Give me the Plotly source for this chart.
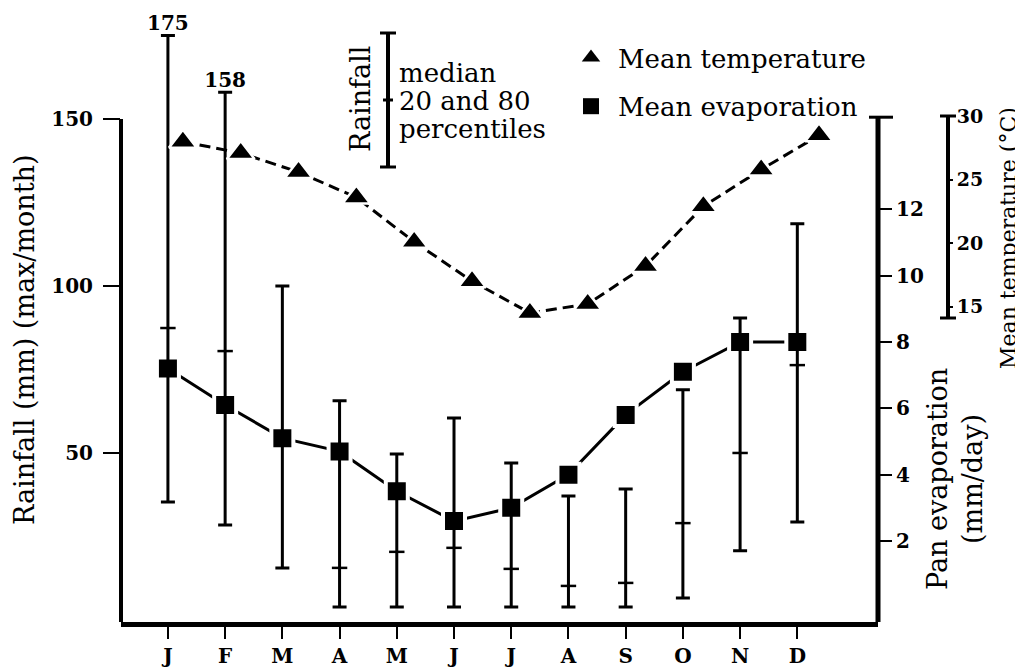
import plotly.graph_objects as go

# monthly climate summary
month_keys = ['Jan', 'Feb', 'Mar', 'Apr', 'May', 'Jun',
              'Jul', 'Aug', 'Sep', 'Oct', 'Nov', 'Dec']
month_labels = ['J', 'F', 'M', 'A', 'M', 'J', 'J', 'A', 'S', 'O', 'N', 'D']

# rainfall (mm/month): 80th percentile, median, 20th percentile
rain_p80 = [175, 158, 100, 65.6, 49.7, 60.5, 47.0, 37.1, 39.2, 68.9, 90.4, 118.6]
rain_median = [87.4, 80.5, 54.0, 15.6, 20.4, 21.6, 15.3, 10.2, 11.1, 29.0, 50.0, 76.3]
rain_p20 = [35.3, 28.4, 15.6, 3.9, 3.9, 3.9, 3.9, 3.9, 3.9, 6.6, 20.7, 29.3]

# pan evaporation (mm/day) and mean temperature (degC)
evaporation = [7.2, 6.1, 5.1, 4.7, 3.5, 2.6, 3.0, 4.0, 5.8, 7.1, 8.0, 8.0]
temperature = [28.0, 27.1, 25.6, 23.6, 20.1, 17.0, 14.5, 15.2, 18.2, 22.9, 25.8, 28.5]

rain_ticks = [50, 100, 150]
evap_ticks = [2, 4, 6, 8, 10, 12]
temp_ticks = [15, 20, 25, 30]

SERIF = 'DejaVu Serif'
OFF = 8  # page margin of the html body
W, H = 1023 - OFF, 672 - OFF
L, R, T, B = 113, 63, 2, 50
PW, PH = W - L - R, H - T - B

RAIN_RANGE = [-0.6, 182.6]
EVAP_RANGE = [-0.44, 18.0]
EVAP_TOP = 14.77


def px_x(x):
    # picture x (px) -> paper fraction
    return (x - OFF - L) / PW


def px_y(y):
    # picture y (px) -> paper fraction
    return (H - B - (y - OFF)) / PH


X_END = px_x(878)
TEMP_POS = px_x(948)

fig = go.Figure()

# evaporation (base subplot, right axis)
fig.add_trace(go.Scatter(
    x=month_keys, y=evaporation, mode='lines+markers',
    line=dict(color='black', width=3),
    marker=dict(symbol='square', size=22, color='black',
                line=dict(color='white', width=4)),
    xaxis='x', yaxis='y', showlegend=False,
))

# rainfall percentile bars (overlay, left axis)
fig.add_trace(go.Scatter(
    x=month_keys, y=rain_median, mode='markers',
    marker=dict(symbol='line-ew', size=11, color='black',
                line=dict(color='black', width=2.5)),
    error_y=dict(type='data', symmetric=False,
                 array=[h - m for h, m in zip(rain_p80, rain_median)],
                 arrayminus=[m - l for m, l in zip(rain_median, rain_p20)],
                 color='black', thickness=3, width=7),
    xaxis='x', yaxis='y2', showlegend=False,
))

# values that run off the top of the rainfall scale
off_x = [m for m, v in zip(month_keys, rain_p80) if v > rain_ticks[-1]]
off_v = [v for v in rain_p80 if v > rain_ticks[-1]]
fig.add_trace(go.Scatter(
    x=off_x, y=off_v, mode='text', text=[f'{v:g}' for v in off_v],
    textposition='top center',
    textfont=dict(family=SERIF, size=20, color='black', weight='bold'),
    xaxis='x', yaxis='y2', showlegend=False, cliponaxis=False,
))

# mean temperature (own small axis on the far right)
fig.add_trace(go.Scatter(
    x=month_keys, y=temperature, mode='lines+markers',
    line=dict(color='black', width=3, dash='11px,6px'),
    marker=dict(symbol='triangle-up', size=24, color='black',
                line=dict(color='white', width=2.5)),
    xaxis='x2', yaxis='y3', showlegend=False, cliponaxis=False,
))

# legend entries (marker only)
fig.add_trace(go.Scatter(
    x=[None], y=[None], mode='markers', name='Mean temperature',
    marker=dict(symbol='triangle-up', size=17, color='black'),
    legendgroup='t',
))
fig.add_trace(go.Scatter(
    x=[None], y=[None], mode='markers', name='Mean evaporation',
    marker=dict(symbol='square', size=16, color='black'),
    legendgroup='e',
))

tick_font = dict(family=SERIF, size=20, color='black', weight='bold')

fig.update_layout(
    width=W, height=H,
    margin=dict(l=L, r=R, t=T, b=B, autoexpand=False),
    paper_bgcolor='white', plot_bgcolor='rgba(0,0,0,0)',
    font=dict(family=SERIF, size=25, color='black'),
    legend=dict(x=px_x(564), y=px_y(34), xanchor='left', yanchor='top',
                font=dict(family=SERIF, size=26, color='black'),
                itemwidth=44, tracegroupgap=12, bgcolor='rgba(0,0,0,0)'),
    xaxis=dict(domain=[0, X_END], type='category', range=[-0.82, 12.41],
               tickvals=month_keys, ticktext=month_labels,
               showline=True, linewidth=5, linecolor='black',
               ticks='outside', ticklen=12, tickwidth=2, tickcolor='black',
               tickfont=tick_font, showgrid=False, zeroline=False,
               anchor='y', automargin=False),
    xaxis2=dict(domain=[0, X_END], type='category', range=[-1.07, 12.02],
                anchor='y3', visible=False, automargin=False),
    yaxis=dict(side='right', range=EVAP_RANGE,
               tickvals=evap_ticks, showline=False,
               ticks='outside', ticklen=13, tickwidth=2, tickcolor='black',
               tickfont=tick_font, showgrid=False, zeroline=False,
               automargin=False),
    yaxis2=dict(overlaying='y', side='left', range=RAIN_RANGE,
                tickvals=rain_ticks, showline=False,
                ticks='outside', ticklen=17, tickwidth=2, tickcolor='black',
                ticklabelstandoff=6,
                tickfont=tick_font, showgrid=False, zeroline=False,
                automargin=False),
    yaxis3=dict(domain=[px_y(318), px_y(116)], range=[14.1, 30.02],
                anchor='free', position=TEMP_POS, side='right',
                tickvals=temp_ticks,
                showline=True, linewidth=4, linecolor='black',
                ticks='outside', ticklen=3, tickwidth=2, tickcolor='black',
                tickfont=dict(family=SERIF, size=19, color='black', weight='bold'),
                showgrid=False, zeroline=False, automargin=False),
)

# axis spines that stop at the top of their scales
fig.add_shape(type='line', xref='paper', yref='y2', x0=0, x1=0,
              y0=RAIN_RANGE[0], y1=rain_ticks[-1],
              line=dict(color='black', width=4))
fig.add_shape(type='line', xref='paper', yref='y', x0=X_END, x1=X_END,
              y0=EVAP_RANGE[0], y1=EVAP_TOP,
              line=dict(color='black', width=5))
fig.add_shape(type='line', xref='paper', yref='y', x0=px_x(869), x1=px_x(893),
              y0=EVAP_TOP, y1=EVAP_TOP, line=dict(color='black', width=3))

# caps on the temperature scale and the rainfall key
shapes = [
    dict(x0=px_x(940), x1=px_x(956), y0=px_y(116), y1=px_y(116)),
    dict(x0=px_x(940), x1=px_x(956), y0=px_y(318), y1=px_y(318)),
    dict(x0=px_x(388), x1=px_x(388), y0=px_y(33), y1=px_y(167)),
    dict(x0=px_x(380), x1=px_x(396), y0=px_y(33), y1=px_y(33)),
    dict(x0=px_x(380), x1=px_x(396), y0=px_y(167), y1=px_y(167)),
    dict(x0=px_x(383), x1=px_x(393), y0=px_y(100), y1=px_y(100)),
]
for s in shapes:
    fig.add_shape(type='line', xref='paper', yref='paper',
                  line=dict(color='black', width=4 if s['x0'] == s['x1'] else 3), **s)

annotations = [
    dict(text='Rainfall', x=px_x(360), y=px_y(99), textangle=-90, size=27),
    dict(text='median', x=px_x(397), y=px_y(73), xanchor='left', size=26),
    dict(text='20 and 80', x=px_x(397), y=px_y(101), xanchor='left', size=26),
    dict(text='percentiles', x=px_x(397), y=px_y(129), xanchor='left', size=26),
    dict(text='Rainfall (mm) (max/month)', x=px_x(24), y=px_y(340),
         textangle=-90, size=27),
    dict(text='Pan evaporation<br>(mm/day)', x=px_x(955), y=px_y(479),
         textangle=-90, size=27),
    dict(text='Mean temperature (°C)', x=px_x(1008), y=px_y(238),
         textangle=-90, size=22),
]
for a in annotations:
    a.setdefault('xanchor', 'center')
    size = a.pop('size')
    fig.add_annotation(xref='paper', yref='paper', showarrow=False,
                       yanchor='middle',
                       font=dict(family=SERIF, size=size, color='black'), **a)

fig.write_html("out.html")
